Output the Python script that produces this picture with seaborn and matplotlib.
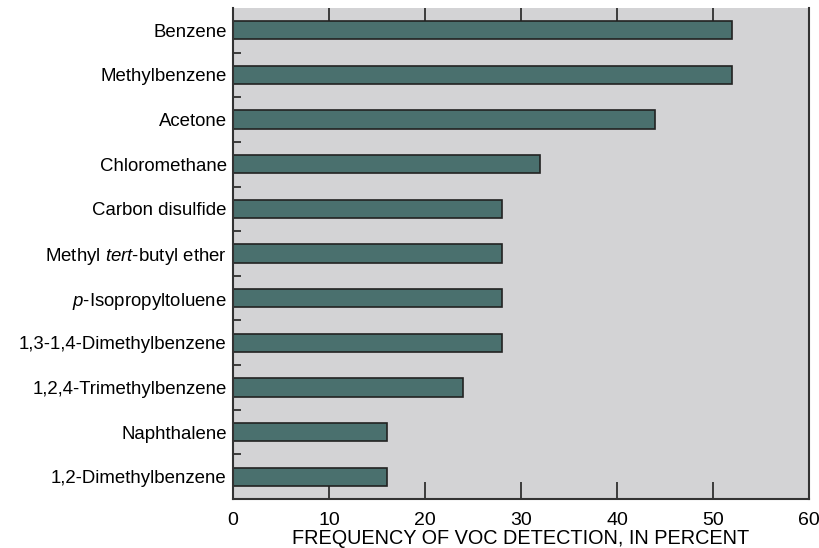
import matplotlib
matplotlib.use("Agg")
import matplotlib.pyplot as plt
import seaborn as sns
import pandas as pd

# Data
compounds = [
    "Benzene",
    "Methylbenzene",
    "Acetone",
    "Chloromethane",
    "Carbon disulfide",
    r"Methyl $\mathit{tert}$-butyl ether",
    r"$\mathit{p}$-Isopropyltoluene",
    "1,3-1,4-Dimethylbenzene",
    "1,2,4-Trimethylbenzene",
    "Naphthalene",
    "1,2-Dimethylbenzene",
]
frequency = [52, 52, 44, 32, 28, 28, 28, 28, 24, 16, 16]
x_ticks = [0, 10, 20, 30, 40, 50, 60]

df = pd.DataFrame({"compound": compounds, "frequency": frequency})

sns.set_style("white")
plt.rcParams["font.family"] = ["Liberation Sans", "DejaVu Sans"]
plt.rcParams["mathtext.fontset"] = "custom"
plt.rcParams["mathtext.rm"] = "Liberation Sans"
plt.rcParams["mathtext.it"] = "Liberation Sans:italic"
plt.rcParams["text.color"] = "black"
plt.rcParams["axes.labelcolor"] = "black"
plt.rcParams["xtick.color"] = "black"
plt.rcParams["ytick.color"] = "black"

fig = plt.figure(figsize=(8.2, 5.48), dpi=100)
ax = fig.add_axes([0.284, 0.0894, 0.7026, 0.896])
ax.set_facecolor("#d3d3d5")

sns.barplot(data=df, x="frequency", y="compound", orient="h",
            color="#4a706e", saturation=1, width=0.41,
            edgecolor="#222222", linewidth=1.2, ax=ax)

ax.set_xlim(0, 60)
ax.set_ylim(len(compounds) - 0.5, -0.5)
ax.set_xticks(x_ticks)
ax.set_xlabel("FREQUENCY OF VOC DETECTION, IN PERCENT", fontsize=14.3, labelpad=0)
ax.set_ylabel("")

# category labels without marks, small marks between categories
ax.tick_params(axis="y", which="major", length=0, pad=4.5, labelsize=13.4)
ax.set_yticks([i + 0.5 for i in range(len(compounds) - 1)], minor=True)
ax.tick_params(axis="y", which="minor", direction="in", length=6,
               width=1.2, color="#222222", left=True)
ax.tick_params(axis="x", which="major", direction="in", length=12,
               width=1.2, color="#222222", top=True, bottom=True,
               labelsize=14, pad=9)

for side in ["left", "bottom", "right"]:
    ax.spines[side].set_color("#333333")
    ax.spines[side].set_linewidth(1.5)
ax.spines["top"].set_visible(False)

fig.savefig("out.png", dpi=100)
